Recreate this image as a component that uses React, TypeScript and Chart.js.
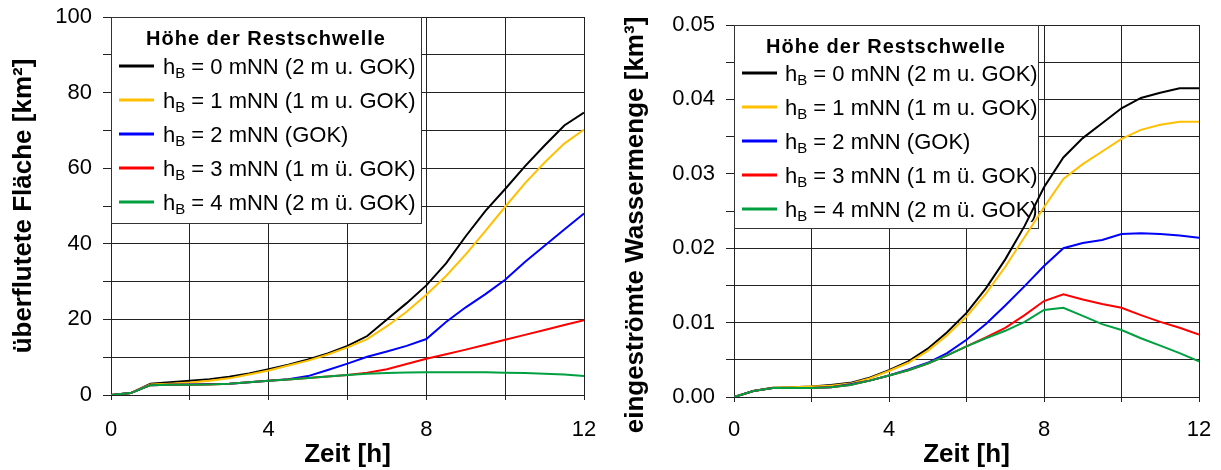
import React, { useEffect, useRef } from "react";
import { Chart, registerables } from "chart.js";

Chart.register(...registerables);

const FONT = '"Liberation Sans", Arial, Helvetica, sans-serif';

// Time axis [h]
const hours = [0, 0.5, 1, 1.5, 2, 2.5, 3, 3.5, 4, 4.5, 5, 5.5, 6, 6.5, 7, 7.5, 8, 8.5, 9, 9.5, 10, 10.5, 11, 11.5, 12];

const legendTitle = "Höhe der Restschwelle";
const legendRest = [
  " = 0 mNN (2 m u. GOK)",
  " = 1 mNN (1 m u. GOK)",
  " = 2 mNN (GOK)",
  " = 3 mNN (1 m ü. GOK)",
  " = 4 mNN (2 m ü. GOK)",
];
const seriesColors = ["#000000", "#FFC000", "#0000FF", "#FF0000", "#00A040"];

// Left panel: überflutete Fläche [km²]
const areaH0 = [0, 0.5, 3.0, 3.4, 3.8, 4.2, 4.8, 5.7, 6.8, 8.0, 9.4, 11.0, 13.0, 15.6, 20.0, 24.3, 29.0, 34.8, 42.0, 48.7, 54.5, 60.5, 66.0, 71.3, 74.7];
const areaH1 = [0, 0.5, 2.8, 3.0, 3.3, 3.8, 4.4, 5.4, 6.5, 7.8, 9.1, 10.7, 12.6, 14.8, 18.2, 22.0, 26.5, 31.5, 37.2, 43.4, 49.8, 56.0, 61.5, 66.5, 70.2];
const areaH2 = [0, 0.5, 2.6, 2.7, 2.8, 2.9, 3.0, 3.4, 3.8, 4.2, 5.0, 6.6, 8.3, 10.1, 11.5, 13.0, 14.8, 19.3, 23.2, 26.7, 30.5, 35.2, 39.5, 43.8, 48.0];
const areaH3 = [0, 0.5, 2.6, 2.7, 2.7, 2.8, 3.0, 3.4, 3.8, 4.1, 4.5, 4.9, 5.3, 5.9, 6.8, 8.2, 9.6, 10.8, 12.0, 13.3, 14.6, 15.9, 17.2, 18.5, 19.8];
const areaH4 = [0, 0.5, 2.6, 2.7, 2.7, 2.8, 3.0, 3.4, 3.8, 4.1, 4.5, 4.9, 5.3, 5.6, 5.8, 5.95, 6.0, 6.0, 6.0, 6.0, 5.9, 5.8, 5.6, 5.4, 5.0];

// Right panel: eingeströmte Wassermenge [km³]
const volH0 = [0, 0.0008, 0.00125, 0.0013, 0.0014, 0.0016, 0.0019, 0.0026, 0.0036, 0.0048, 0.0065, 0.0087, 0.0113, 0.0146, 0.0185, 0.0230, 0.0282, 0.0322, 0.0348, 0.0368, 0.0388, 0.0402, 0.0409, 0.0415, 0.0415];
const volH1 = [0, 0.0008, 0.00125, 0.0013, 0.0014, 0.0015, 0.0018, 0.0025, 0.0035, 0.0046, 0.0062, 0.0083, 0.0108, 0.0139, 0.0175, 0.0215, 0.0255, 0.0293, 0.0313, 0.0330, 0.0347, 0.0359, 0.0366, 0.0370, 0.0370];
const volH2 = [0, 0.0008, 0.0012, 0.0012, 0.0012, 0.0013, 0.0017, 0.0022, 0.0029, 0.0037, 0.0046, 0.0059, 0.0077, 0.0098, 0.0123, 0.0149, 0.0176, 0.0200, 0.0207, 0.0211, 0.0219, 0.0220, 0.0219, 0.0217, 0.0214];
const volH3 = [0, 0.0008, 0.0012, 0.0012, 0.0012, 0.0013, 0.0016, 0.0022, 0.0029, 0.0036, 0.0045, 0.0056, 0.0068, 0.0080, 0.0093, 0.0110, 0.0129, 0.0138, 0.0131, 0.0125, 0.0120, 0.0110, 0.0101, 0.0093, 0.0084];
const volH4 = [0, 0.0008, 0.0012, 0.0012, 0.0012, 0.0013, 0.0016, 0.0022, 0.0029, 0.0036, 0.0045, 0.0056, 0.0068, 0.0079, 0.0089, 0.0101, 0.0117, 0.0120, 0.0109, 0.0098, 0.0090, 0.0079, 0.0069, 0.0059, 0.0048];

const xTitle = "Zeit [h]";
const leftYTitle = "überflutete Fläche [km²]";
const rightYTitle = "eingeströmte Wassermenge [km³]";

const GRID = "#222222";

function makeLegendPlugin(lg: any) {
  return {
    id: "customLegend",
    beforeDatasetsDraw(chart: any) {
      const { ctx, chartArea } = chart;
      const L = chartArea.left;
      const T = chartArea.top;
      ctx.save();
      ctx.fillStyle = "#ffffff";
      ctx.fillRect(L, T, lg.boxW, lg.boxH);
      ctx.strokeStyle = "#333333";
      ctx.lineWidth = 1;
      ctx.strokeRect(L + 0.5, T + 0.5, lg.boxW, lg.boxH);
      ctx.fillStyle = "#000000";
      ctx.font = `bold 20px ${FONT}`;
      (ctx as any).letterSpacing = "1px";
      ctx.textAlign = "center";
      ctx.textBaseline = "alphabetic";
      ctx.fillText(legendTitle, L + lg.titleX, T + lg.titleY);
      (ctx as any).letterSpacing = "0px";
      chart.data.datasets.forEach((ds: any, i: number) => {
        const y = T + lg.rowY0 + i * lg.rowStep;
        ctx.strokeStyle = ds.borderColor;
        ctx.lineWidth = 3;
        ctx.beginPath();
        ctx.moveTo(L + 8, y);
        ctx.lineTo(L + 43, y);
        ctx.stroke();
        ctx.textAlign = "left";
        ctx.fillStyle = "#000000";
        let x = L + lg.textX;
        ctx.font = `22px ${FONT}`;
        ctx.fillText("h", x, y + 8);
        x += ctx.measureText("h").width;
        ctx.font = `15px ${FONT}`;
        ctx.fillText("B", x, y + 12);
        x += ctx.measureText("B").width;
        ctx.font = `22px ${FONT}`;
        ctx.fillText(legendRest[i], x, y + 8);
      });
      ctx.restore();
    },
  };
}

function makeYTitlePlugin(t: any) {
  return {
    id: "yTitle",
    afterDraw(chart: any) {
      const { ctx } = chart;
      ctx.save();
      ctx.translate(t.x, t.y);
      ctx.rotate(-Math.PI / 2);
      ctx.font = `bold 26px ${FONT}`;
      ctx.fillStyle = "#000000";
      ctx.textAlign = "center";
      ctx.textBaseline = "middle";
      ctx.fillText(t.text, 0, 0);
      ctx.restore();
    },
  };
}

const panels = [
  {
    key: "area",
    left: 0,
    width: 610,
    padTop: 17,
    padRight: 26,
    yWidth: 111,
    xHeight: 75,
    yMax: 100,
    yStep: 10,
    xTickPad: 17,
    yLabel: (v: number) => (Math.round(v) % 20 === 0 ? String(Math.round(v)) : ""),
    series: [areaH0, areaH1, areaH2, areaH3, areaH4],
    legend: { boxW: 310, boxH: 206, titleX: 155, titleY: 28, rowY0: 49, rowStep: 34, textX: 52 },
    yTitle: { text: leftYTitle, x: 23.5, y: 206 },
  },
  {
    key: "vol",
    left: 610,
    width: 611,
    padTop: 25,
    padRight: 22,
    yWidth: 124,
    xHeight: 73,
    yMax: 0.05,
    yStep: 0.005,
    xTickPad: 15,
    yLabel: (v: number) => {
      const k = Math.round(v * 1000);
      return k % 10 === 0 ? (k / 1000).toFixed(2) : "";
    },
    series: [volH0, volH1, volH2, volH3, volH4],
    legend: { boxW: 304, boxH: 203, titleX: 152, titleY: 28, rowY0: 48, rowStep: 34, textX: 51 },
    yTitle: { text: rightYTitle, x: 26, y: 225 },
  },
];

function Panel({ p }: { p: any }) {
  const ref = useRef<HTMLCanvasElement>(null);
  useEffect(() => {
    const canvas = ref.current;
    if (!canvas) return;
    const datasets = p.series.map((arr: number[], i: number) => ({
      label: "hB" + legendRest[i],
      data: hours.map((h, j) => ({ x: h, y: arr[j] })),
      borderColor: seriesColors[i],
      backgroundColor: seriesColors[i],
      borderWidth: 2,
      pointRadius: 0,
      tension: 0,
      fill: false,
      order: 4 - i,
    }));
    const chart = new Chart(canvas, {
      type: "line",
      data: { datasets },
      options: {
        animation: false,
        responsive: false,
        devicePixelRatio: 1,
        events: [],
        layout: { padding: { top: p.padTop, right: p.padRight, bottom: 0, left: 0 } },
        plugins: {
          legend: { display: false },
          tooltip: { enabled: false },
          title: { display: false },
        },
        scales: {
          x: {
            type: "linear",
            min: 0,
            max: 12,
            ticks: {
              stepSize: 2,
              autoSkip: false,
              maxRotation: 0,
              padding: p.xTickPad,
              color: "#000000",
              font: { family: FONT, size: 22 },
              callback: (v: any) => (Math.round(v) % 4 === 0 ? String(Math.round(v)) : ""),
            },
            grid: { color: GRID, lineWidth: 1, tickLength: 5, drawTicks: true },
            border: { color: GRID, width: 1 },
            title: {
              display: true,
              text: xTitle,
              color: "#000000",
              font: { family: FONT, size: 26, weight: "bold" },
              padding: { top: 0, bottom: 0 },
            },
            afterFit: (s: any) => {
              s.height = p.xHeight;
              s.paddingLeft = 0;
              s.paddingRight = 0;
            },
          },
          y: {
            type: "linear",
            min: 0,
            max: p.yMax,
            ticks: {
              stepSize: p.yStep,
              autoSkip: false,
              padding: 11,
              color: "#000000",
              font: { family: FONT, size: 22 },
              callback: (v: any) => p.yLabel(v),
            },
            grid: { color: GRID, lineWidth: 1, tickLength: 8, drawTicks: true },
            border: { color: GRID, width: 1 },
            title: { display: false, text: p.yTitle.text },
            afterFit: (s: any) => {
              s.width = p.yWidth;
              s.paddingTop = 0;
              s.paddingBottom = 0;
            },
          },
        },
      },
      plugins: [makeLegendPlugin(p.legend), makeYTitlePlugin(p.yTitle)],
    } as any);
    return () => chart.destroy();
  }, []);
  return (
    <canvas
      ref={ref}
      width={p.width}
      height={470}
      style={{ position: "absolute", left: p.left, top: 0, width: p.width, height: 470 }}
    />
  );
}

export default function App() {
  return (
    <div
      style={{
        position: "fixed",
        left: 0,
        top: 0,
        width: 1221,
        height: 470,
        background: "#ffffff",
        overflow: "hidden",
      }}
    >
      {panels.map((p) => (
        <Panel key={p.key} p={p} />
      ))}
    </div>
  );
}
